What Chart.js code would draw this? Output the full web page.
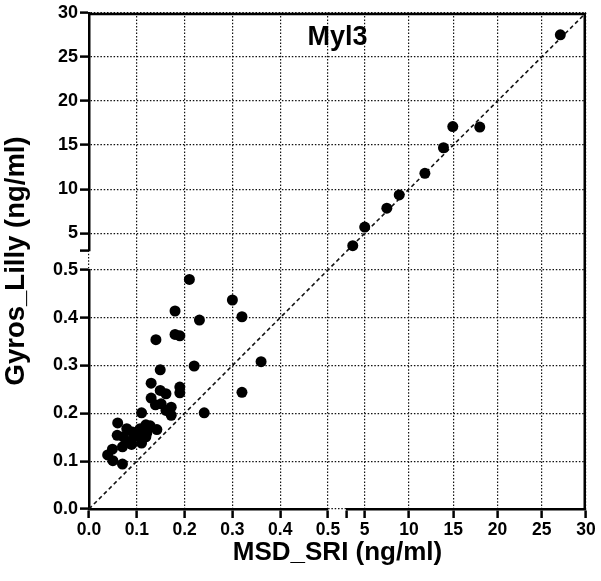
<!DOCTYPE html>
<html>
<head>
<meta charset="utf-8">
<script src="https://cdn.jsdelivr.net/npm/chart.js@4.4.1/dist/chart.umd.min.js"></script>
<style>
  html, body { margin: 0; padding: 0; background: #ffffff; }
  #wrap { width: 601px; height: 581px; position: relative; }
</style>
</head>
<body>
<div id="wrap"><canvas id="c" width="601" height="581"></canvas></div>
<script>
// ---------- data ----------
const chartTitle = 'Myl3';
const xAxisTitle = 'MSD_SRI (ng/ml)';
const yAxisTitle = 'Gyros_Lilly (ng/ml)';

const lowTicks  = [0, 0.1, 0.2, 0.3, 0.4, 0.5];
const highTicks = [5, 10, 15, 20, 25, 30];
const lowRange  = [0, 0.5];
const highRange = [3, 30];

// low-range samples (MSD_SRI, Gyros_Lilly)
const lowX = [0.210, 0.300, 0.320, 0.231, 0.180, 0.140, 0.180, 0.190, 0.220, 0.360,
              0.149, 0.130, 0.190, 0.190, 0.320, 0.149, 0.161, 0.130, 0.241, 0.139,
              0.151, 0.172, 0.161, 0.172, 0.110, 0.060, 0.059, 0.079, 0.091, 0.107,
              0.119, 0.128, 0.142, 0.121, 0.100, 0.072, 0.082, 0.070, 0.089, 0.110,
              0.049, 0.039, 0.050, 0.070, 0.119, 0.094, 0.107];
const lowY = [0.480, 0.437, 0.402, 0.395, 0.414, 0.354, 0.365, 0.362, 0.299, 0.308,
              0.291, 0.263, 0.255, 0.243, 0.244, 0.248, 0.241, 0.232, 0.201, 0.218,
              0.220, 0.213, 0.206, 0.196, 0.201, 0.180, 0.154, 0.168, 0.161, 0.168,
              0.176, 0.174, 0.166, 0.159, 0.154, 0.151, 0.140, 0.130, 0.135, 0.138,
              0.125, 0.113, 0.101, 0.094, 0.151, 0.151, 0.159];

// high-range samples
const highX = [27.1, 14.95, 18.0, 13.9, 11.8, 8.9, 7.5, 5.0, 3.65];
const highY = [27.5, 17.1, 17.05, 14.7, 11.8, 9.35, 7.85, 5.7, 3.6];

// line of identity (y = x), one piece per axis segment
const identityLow  = [0, 0.54];
const identityHigh = [3, 30];

// ---------- chart ----------
const FONT = "'Liberation Sans', Arial, Helvetica, sans-serif";
const xTickFont = { family: FONT, size: 17.5, weight: 'bold' };
const yTickFont = { family: FONT, size: 18, weight: 'bold' };
const xTitleFont = { family: FONT, size: 26, weight: 'bold' };
const yTitleFont = { family: FONT, size: 27.5, weight: 'bold' };

function pts(xs, ys) { return xs.map((x, i) => ({ x: x, y: ys[i] })); }

function gridOpts(withCap) {
  return {
    display: true,
    drawOnChartArea: true,
    color: (ctx) => (withCap && ctx.tick && ctx.tick.value === ctx.scale.min) ? 'rgba(0,0,0,0)' : '#111',
    lineWidth: 1.2,
    tickColor: '#000',
    tickWidth: 2.5,
    tickLength: 9,
    tickBorderDash: [],
    drawTicks: true
  };
}

function segment(axis, ticks, range, weight, fmt, withCap) {
  const horizontal = axis === 'x';
  return {
    type: 'linear',
    position: horizontal ? 'bottom' : 'left',
    stack: horizontal ? 'xs' : 'ys',
    stackWeight: weight,
    min: range[0],
    max: range[1],
    afterBuildTicks: (s) => {
      s.ticks = (withCap ? [range[0]] : []).concat(ticks).map(v => ({ value: v }));
    },
    afterFit: (s) => { if (horizontal) s.height = 40; else s.width = 59; },
    ticks: {
      callback: (v) => (withCap && v === range[0]) ? '' : fmt(v),
      font: horizontal ? xTickFont : yTickFont, color: '#000', padding: 2,
      autoSkip: false, maxRotation: 0, minRotation: 0
    },
    grid: gridOpts(withCap),
    border: { display: true, color: '#000', width: 2.5, dash: [1.5, 1.8] }
  };
}

function gapScale(axis) {
  const horizontal = axis === 'x';
  return {
    type: 'linear',
    position: horizontal ? 'bottom' : 'left',
    stack: horizontal ? 'xs' : 'ys',
    stackWeight: 19,
    min: 0, max: 1,
    afterFit: (s) => { if (horizontal) s.height = 40; else s.width = 59; },
    ticks: { display: false },
    grid: { display: false, drawTicks: false },
    border: { display: false }
  };
}

function titleScale(axis, text) {
  const horizontal = axis === 'x';
  return {
    type: 'linear',
    position: horizontal ? 'bottom' : 'left',
    min: 0, max: 1,
    afterFit: (s) => { if (horizontal) s.height = 32; else s.width = 30; },
    ticks: { display: false },
    grid: { display: false, drawTicks: false },
    border: { display: false },
    title: {
      display: true, text: text, color: '#000', font: horizontal ? xTitleFont : yTitleFont,
      padding: horizontal ? { top: 0, bottom: 13 } : { top: 0, bottom: 0 }
    }
  };
}

const fmtLow = (v) => Number(v).toFixed(1);
const fmtHigh = (v) => String(v);

const decorPlugin = {
  id: 'decor',
  afterDraw(chart) {
    const { ctx, chartArea } = chart;
    ctx.save();
    ctx.strokeStyle = '#000';
    ctx.lineWidth = 2.5;
    ctx.setLineDash([]);
    ctx.beginPath();
    ctx.moveTo(chartArea.left, chartArea.top + 1.25);
    ctx.lineTo(chartArea.right - 1.25, chartArea.top + 1.25);
    ctx.lineTo(chartArea.right - 1.25, chartArea.bottom);
    ctx.stroke();
    ctx.fillStyle = '#000';
    ctx.font = 'bold 27px ' + FONT;
    ctx.textAlign = 'center';
    ctx.textBaseline = 'middle';
    ctx.fillText(chartTitle, (chartArea.left + chartArea.right) / 2, chartArea.top + 25);
    ctx.restore();
  }
};

new Chart(document.getElementById('c'), {
  type: 'scatter',
  data: {
    datasets: [
      {
        label: 'identity low', data: pts(identityLow, identityLow),
        xAxisID: 'xLow', yAxisID: 'yLow', showLine: true, pointRadius: 0,
        borderColor: '#111', borderWidth: 1.6, borderDash: [4, 3], clip: false, order: 2
      },
      {
        label: 'identity high', data: pts(identityHigh, identityHigh),
        xAxisID: 'xHigh', yAxisID: 'yHigh', showLine: true, pointRadius: 0,
        borderColor: '#111', borderWidth: 1.6, borderDash: [4, 3], clip: false, order: 2
      },
      {
        label: 'low', data: pts(lowX, lowY),
        xAxisID: 'xLow', yAxisID: 'yLow', pointRadius: 5.5, pointHoverRadius: 5.5,
        backgroundColor: '#000', borderColor: '#000', borderWidth: 0, clip: false, order: 1
      },
      {
        label: 'high', data: pts(highX, highY),
        xAxisID: 'xHigh', yAxisID: 'yHigh', pointRadius: 5.5, pointHoverRadius: 5.5,
        backgroundColor: '#000', borderColor: '#000', borderWidth: 0, clip: false, order: 1
      }
    ]
  },
  options: {
    responsive: false,
    animation: false,
    devicePixelRatio: 1,
    layout: { padding: { top: 11, right: 15, bottom: 0, left: 0 } },
    plugins: { legend: { display: false }, tooltip: { enabled: false }, title: { display: false } },
    scales: {
      xLow: segment('x', lowTicks, lowRange, 239, fmtLow, false),
      xGap: gapScale('x'),
      xHigh: segment('x', highTicks, highRange, 239, fmtHigh, true),
      xTitle: titleScale('x', xAxisTitle),
      yLow: segment('y', lowTicks, lowRange, 240, fmtLow, false),
      yGap: gapScale('y'),
      yHigh: segment('y', highTicks, highRange, 239, fmtHigh, true),
      yTitle: titleScale('y', yAxisTitle)
    }
  },
  plugins: [decorPlugin]
});
</script>
</body>
</html>
